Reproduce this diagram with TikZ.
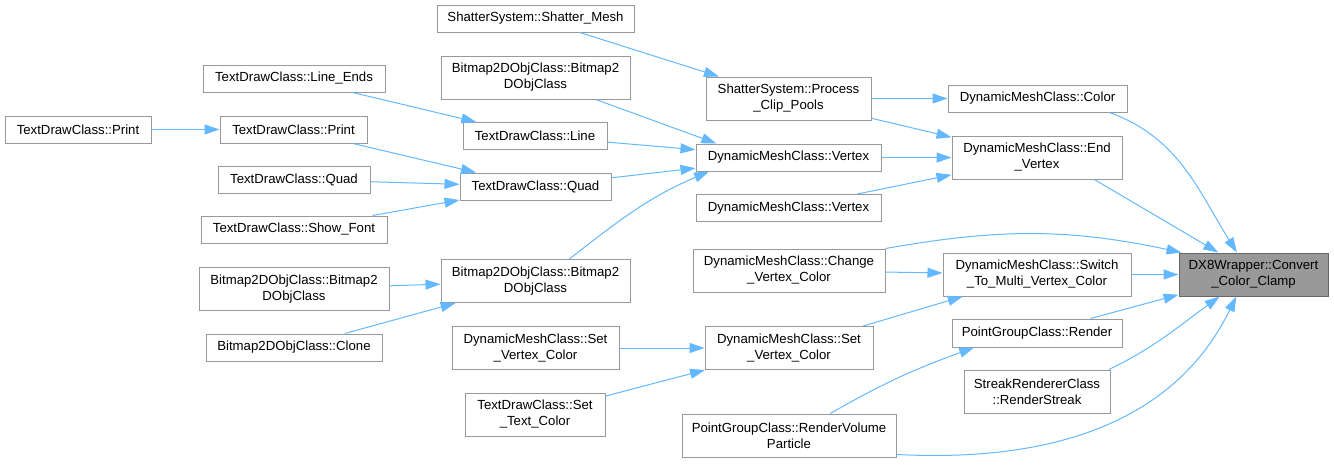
\documentclass[tikz,border=0pt]{standalone}
\usepackage{fontspec}
\setmainfont{Liberation Sans}
\usepackage{tikz}
\usetikzlibrary{arrows.meta}
\definecolor{edge}{RGB}{99, 184, 255}
\definecolor{frame}{RGB}{153, 153, 153}
\definecolor{rootfill}{RGB}{153, 153, 153}
\definecolor{rootline}{RGB}{102, 102, 102}

\begin{document}
\begin{tikzpicture}[x=1pt, y=1pt,
  func/.style={draw=frame, fill=white, line width=1pt, inner sep=0pt,
    minimum height=27pt, align=center, font=\fontsize{13.2}{16}\selectfont},
  tall/.style={minimum height=43pt},
  focus/.style={func, tall, fill=rootfill, draw=rootline},
  link/.style={-{Triangle[length=15pt, width=10pt]}, line width=1pt, draw=edge}
]
\useasboundingbox (0,0) rectangle (1334,-464);
% left columns
\node[func, minimum width=146pt] (printA) at (78,-129.5) {TextDrawClass::Print};
\node[func, minimum width=147pt] (printB) at (293.5,-129.5) {TextDrawClass::Print};
\node[func, minimum width=182pt] (lineEnds) at (294,-78.5) {TextDrawClass::Line\_Ends};
\node[func, minimum width=152pt] (quadA) at (294,-179.5) {TextDrawClass::Quad};
\node[func, minimum width=186pt] (showFont) at (294,-229.5) {TextDrawClass::Show\_Font};
\node[func, tall, minimum width=190pt] (bmpA) at (294,-289) {Bitmap2DObjClass::Bitmap2\\DObjClass};
\node[func, minimum width=176pt] (clone) at (294,-347.5) {Bitmap2DObjClass::Clone};
\node[func, minimum width=197pt] (shatterMesh) at (535.5,-18.5) {ShatterSystem::Shatter\_Mesh};
\node[func, tall, minimum width=189pt] (bmpTop) at (535.5,-77.5) {Bitmap2DObjClass::Bitmap2\\DObjClass};
\node[func, minimum width=144pt] (line) at (535,-136) {TextDrawClass::Line};
\node[func, minimum width=151pt] (quadB) at (535.5,-186.5) {TextDrawClass::Quad};
\node[func, tall, minimum width=189pt] (bmpMid) at (535.5,-281) {Bitmap2DObjClass::Bitmap2\\DObjClass};
\node[func, tall, minimum width=167pt] (setVCa) at (535.5,-348) {DynamicMeshClass::Set\\\_Vertex\_Color};
\node[func, tall, minimum width=140pt] (setText) at (535,-414.5) {TextDrawClass::Set\\\_Text\_Color};
% middle column
\node[func, tall, minimum width=165pt] (processClip) at (788.5,-98.5) {ShatterSystem::Process\\\_Clip\_Pools};
\node[func, minimum width=185pt] (vertexA) at (788.5,-157.5) {DynamicMeshClass::Vertex};
\node[func, minimum width=185pt] (vertexB) at (788.5,-208) {DynamicMeshClass::Vertex};
\node[func, tall, minimum width=192pt] (changeVC) at (789,-270.5) {DynamicMeshClass::Change\\\_Vertex\_Color};
\node[func, tall, minimum width=168pt] (setVCb) at (789,-348) {DynamicMeshClass::Set\\\_Vertex\_Color};
\node[func, tall, minimum width=214pt] (renderVol) at (789,-435.5) {PointGroupClass::RenderVolume\\Particle};
% right columns
\node[func, minimum width=179pt] (color) at (1037.5,-98.5) {DynamicMeshClass::Color};
\node[func, tall, minimum width=170pt] (endVertex) at (1037,-157.5) {DynamicMeshClass::End\\\_Vertex};
\node[func, tall, minimum width=188pt] (switchMulti) at (1037,-274.5) {DynamicMeshClass::Switch\\\_To\_Multi\_Vertex\_Color};
\node[func, minimum width=170pt, minimum height=28pt] (render) at (1037,-333) {PointGroupClass::Render};
\node[func, tall, minimum width=146pt] (streak) at (1037,-391.5) {StreakRendererClass\\::RenderStreak};
\node[focus, minimum width=149pt] (convert) at (1253.5,-274.5) {DX8Wrapper::Convert\\\_Color\_Clamp};
% calls
\draw[link] (printA) -- (printB);
\draw[link] (lineEnds) -- (line);
\draw[link] (printB) -- (quadB);
\draw[link] (quadA) -- (quadB);
\draw[link] (showFont) -- (quadB);
\draw[link] (bmpA) -- (bmpMid);
\draw[link] (clone) -- (bmpMid);
\draw[link] (shatterMesh) -- (processClip);
\draw[link] (bmpTop) -- (vertexA.169);
\draw[link] (line) -- (vertexA);
\draw[link] (quadB) -- (vertexA);
\draw[link] (bmpMid.33) to[out=38, in=203] (vertexA.190);
\draw[link] (processClip) -- (color);
\draw[link] (processClip) -- (endVertex);
\draw[link] (vertexA) -- (endVertex);
\draw[link] (vertexB) -- (endVertex);
\draw[link] (color.-11) to[out=-20, in=122] (convert.127);
\draw[link] (endVertex.-21) -- (convert.148);
\draw[link] (changeVC.north east) to[out=10, in=168] (convert.163);
\draw[link] (changeVC) -- (switchMulti);
\draw[link] (switchMulti) -- (convert);
\draw[link] (setVCa) -- (setVCb);
\draw[link] (setText) -- (setVCb);
\draw[link] (setVCb) -- (switchMulti);
\draw[link] (render) -- (convert);
\draw[link] (renderVol.28) to[out=30, in=200] (render.193);
\draw[link] (streak.17) to[out=26, in=-144] (convert.213);
\draw[link] (renderVol.-10) to[out=-3, in=-116] (convert.232);
\end{tikzpicture}
\end{document}
